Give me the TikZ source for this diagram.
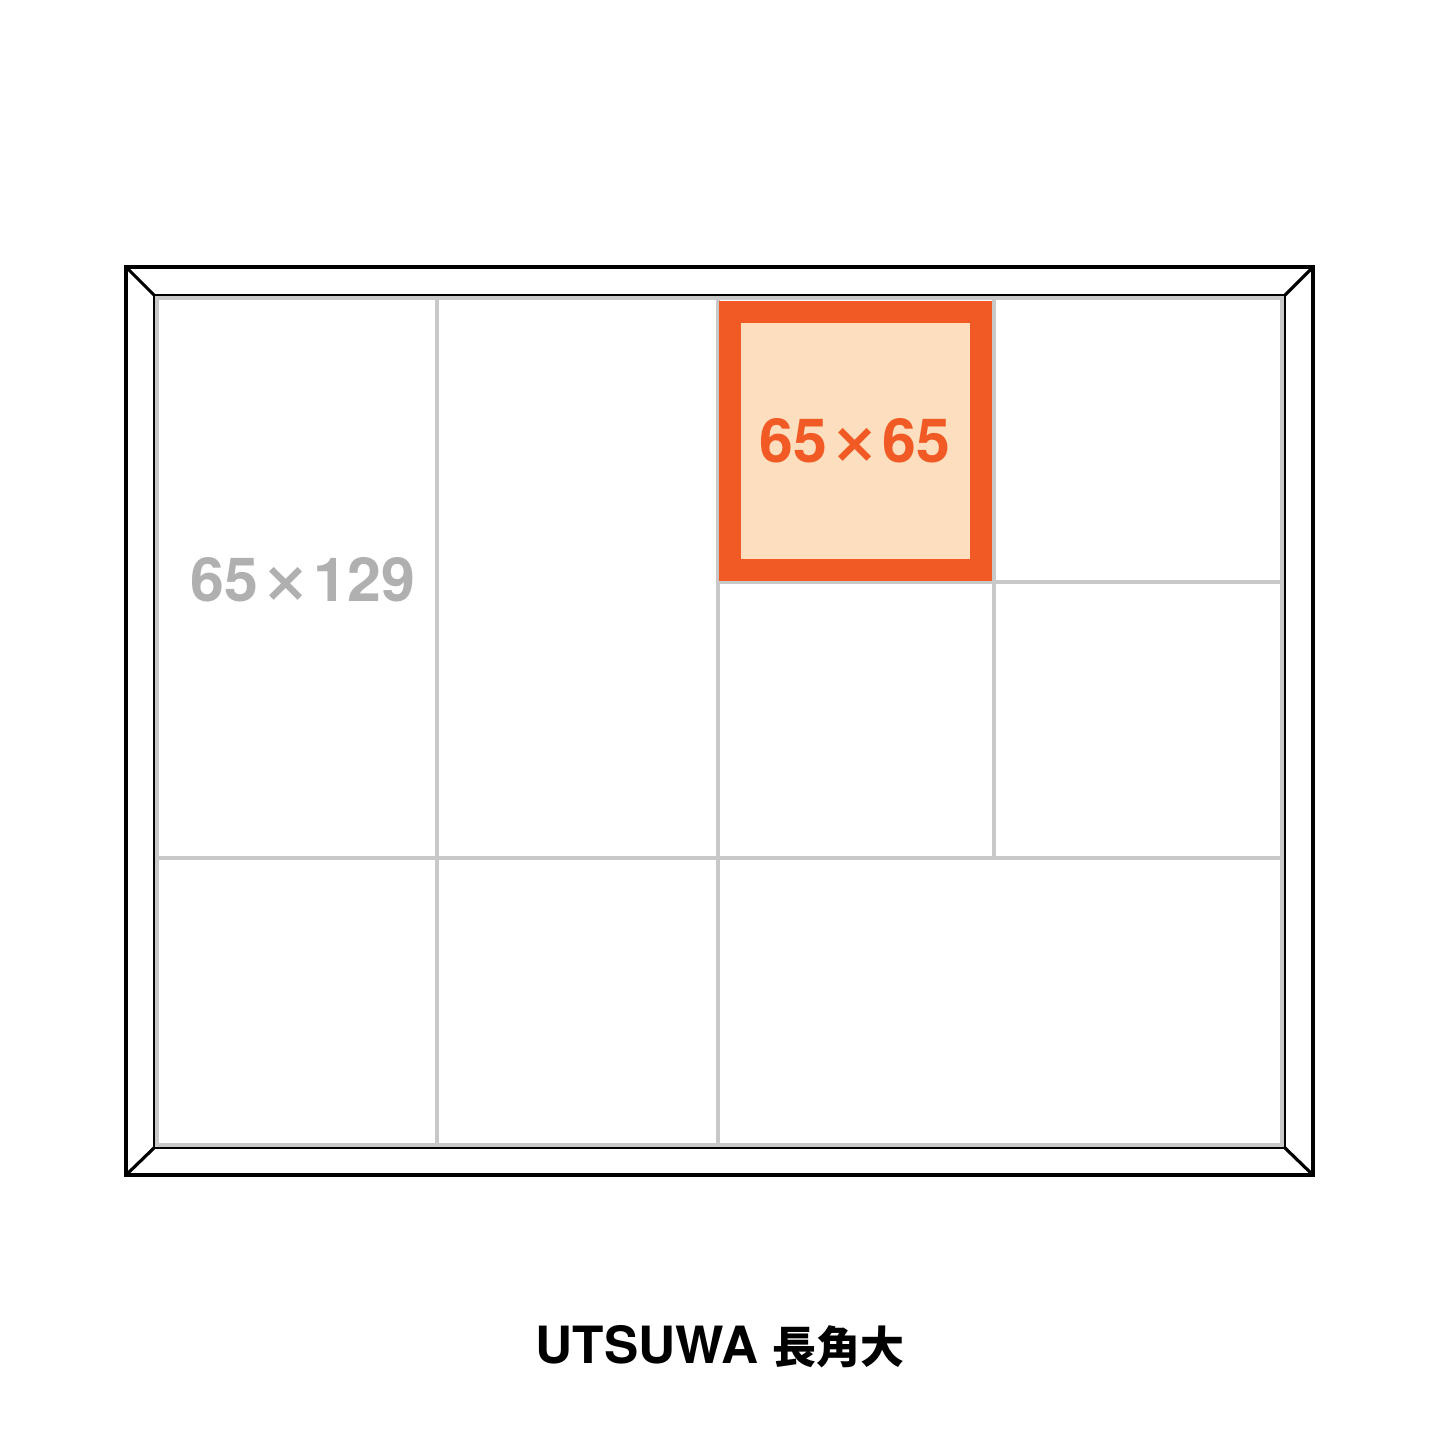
\documentclass[tikz,border=0pt]{standalone}
\usepackage{fontspec}
\setmainfont{TeX Gyre Heros}
\newfontfamily\jpfont{Noto Sans CJK JP}
\newfontfamily\symfont{DejaVu Sans}
\definecolor{trayorange}{HTML}{F15A24}
\definecolor{traypeach}{HTML}{FDDEBE}
\definecolor{traygrey}{HTML}{C8C8C8}
\definecolor{labelgrey}{HTML}{B0B0B0}
\newcommand{\bytimes}{\kern1.2pt{\symfont\bfseries\fontsize{16}{16}\selectfont ×}\kern1.2pt}

\begin{document}
\begin{tikzpicture}[x = 0.01cm, y = -0.01cm,
    frame/.style = {draw = black, line width = 0.9pt},
    divider/.style = {draw = traygrey, line width = 0.9pt},
    sizelabel/.style = {font = \fontsize{17.3}{20}\selectfont\bfseries, inner sep = 0pt}]
    \useasboundingbox (0,0) rectangle (1445,1445);
    % frame corners
    \coordinate (OTL) at (126,267);
    \coordinate (OBR) at (1313,1175);
    \coordinate (ITL) at (155,296);
    \coordinate (IBR) at (1284,1147);
    \draw[frame] (OTL) rectangle (OBR);
    \draw[frame] (ITL) rectangle (IBR);
    \draw[frame] (OTL) -- (ITL);
    \draw[frame] (OBR) -- (IBR);
    \draw[frame] (1313,267) -- (1284,296);
    \draw[frame] (126,1175) -- (155,1147);
    % partitions
    \draw[divider] (157,298) rectangle (1282,1145);
    \draw[divider] (437,298) -- (437,1145);
    \draw[divider] (718,298) -- (718,1145);
    \draw[divider] (994,298) -- (994,858);
    \draw[divider] (157,858) -- (1282,858);
    \draw[divider] (718,582) -- (1282,582);
    % highlighted cell
    \filldraw[fill = traypeach, draw = trayorange, line width = 0.22cm]
        (730,311.5) rectangle (980.5,569.5);
    \node[sizelabel, text = trayorange] (small) at (855,441) {65\bytimes65};
    \node[sizelabel, text = labelgrey] (long) at (303,580) {65\bytimes129};
    \node[font = \fontsize{14.6}{17}\selectfont\bfseries, inner sep = 0pt] (title)
        at (720,1347) {UTSUWA {\jpfont\bfseries\fontsize{12.5}{15}\selectfont 長角大}};
\end{tikzpicture}
\end{document}
